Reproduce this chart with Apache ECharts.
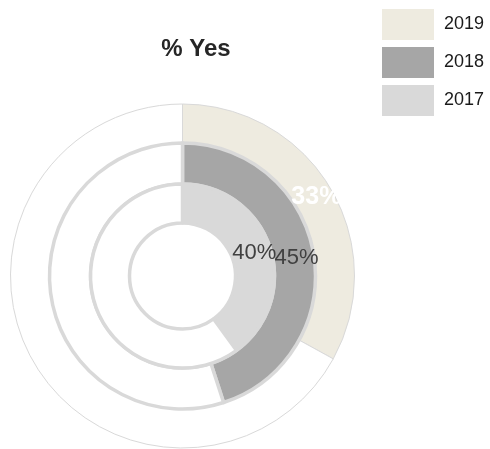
<!DOCTYPE html>
<html>
<head>
<meta charset="utf-8">
<script src="https://cdn.jsdelivr.net/npm/echarts@6/dist/echarts.min.js"></script>
<style>
  html, body { margin: 0; padding: 0; background: #fff; }
  #chart { width: 490px; height: 449px; }
</style>
</head>
<body>
<div id="chart"></div>
<script>
// rings from outside to inside
const years = ["2019", "2018", "2017"];
const yesPct = [33, 45, 40];
const ringColors = ["#EEEBE0", "#A6A6A6", "#D9D9D9"];

const radii = [[133, 172], [92, 133], [53, 92]];
const borderW = [1, 3.5, 3.5];
const labelStyles = [
  { color: "#ffffff", fontWeight: "bold", fontSize: 25 },
  { color: "#404040", fontWeight: "normal", fontSize: 22 },
  { color: "#404040", fontWeight: "normal", fontSize: 22 },
];

const chart = echarts.init(document.getElementById("chart"));

const series = years.map((y, i) => ({
  type: "pie",
  name: y,
  center: [182.5, 276],
  radius: radii[i],
  startAngle: 90,
  clockwise: true,
  silent: true,
  animation: false,
  avoidLabelOverlap: false,
  labelLayout: { hideOverlap: false },
  itemStyle: { borderColor: "#D9D9D9", borderWidth: borderW[i] },
  label: { show: false },
  labelLine: { show: false },
  emphasis: { disabled: true },
  data: [
    {
      name: y,
      value: yesPct[i],
      itemStyle: { color: ringColors[i] },
      label: {
        show: true,
        position: "inside",
        formatter: "{c}%",
        fontFamily: "Liberation Sans, Arial, sans-serif",
        ...labelStyles[i],
      },
    },
    { name: y + " no", value: 100 - yesPct[i], itemStyle: { color: "#ffffff" } },
  ],
}));

const option = {
  backgroundColor: "#ffffff",
  title: {
    text: "% Yes",
    left: 191,
    top: 32,
    textAlign: "center",
    textStyle: {
      fontFamily: "Liberation Sans, Arial, sans-serif",
      fontWeight: "bold",
      fontSize: 24,
      color: "#262626",
    },
  },
  legend: {
    data: years.map((y, i) => ({
      name: y,
      itemStyle: { color: ringColors[i], borderWidth: 0 },
    })),
    orient: "vertical",
    left: 382,
    top: 9,
    padding: 0,
    itemWidth: 52,
    itemHeight: 31,
    itemGap: 7,
    icon: "rect",
    selectedMode: false,
    textStyle: {
      fontFamily: "Liberation Sans, Arial, sans-serif",
      fontSize: 18,
      color: "#1a1a1a",
      padding: [0, 0, 0, 5],
    },
  },
  series: series,
};

chart.setOption(option);
</script>
</body>
</html>
